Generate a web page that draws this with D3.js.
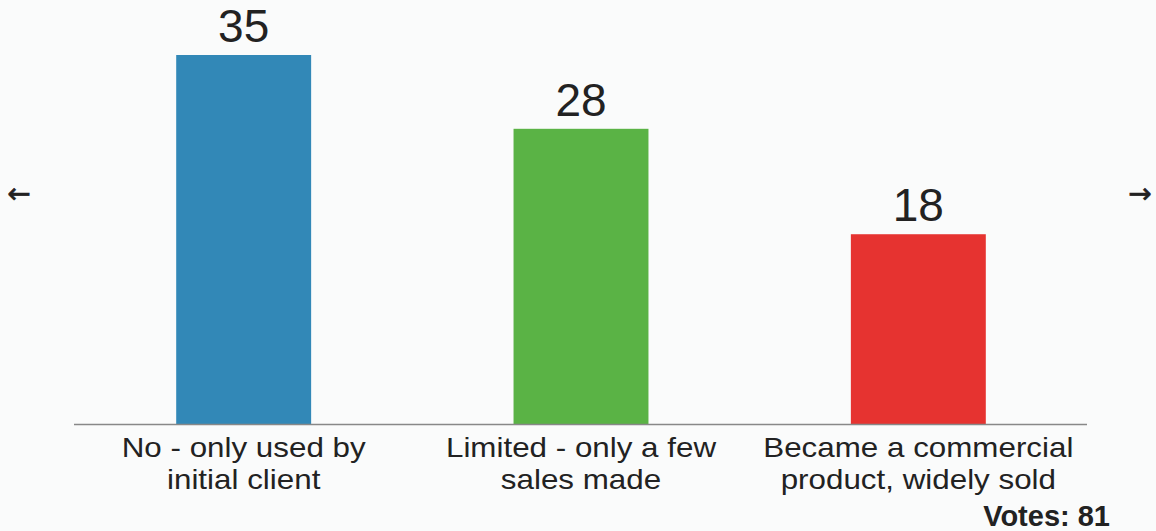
<!DOCTYPE html>
<html lang="en">
<head>
  <meta charset="UTF-8">
  <title>Poll results</title>
  <script src="https://d3js.org/d3.v7.min.js"></script>
  <style>
    body {
      margin: 0;
      background: #fafbfb;
      font-family: "Liberation Sans", Arial, sans-serif;
    }
    .value { font-size: 46px; fill: #222; }
    .cat { font-size: 28px; fill: #222; }
    .votes { font-size: 29px; font-weight: bold; fill: #222; }
    .nav { font-family: "DejaVu Sans", sans-serif; font-size: 28px; fill: #222; stroke: #222; stroke-width: 0.6px; }
  </style>
</head>
<body>
  <svg id="chart" width="1156" height="531"></svg>

  <script>
    // Dane
    const categories = ["No - only used by|initial client", "Limited - only a few|sales made", "Became a commercial|product, widely sold"];
    const values = [35, 28, 18];
    const colors = ["#3288b7", "#5ab345", "#e63330"];
    const totalVotes = 81;

    const baseY = 424;

    const svg = d3.select("#chart");

    const x = d3.scaleBand()
      .domain(d3.range(categories.length))
      .range([75, 1087])
      .paddingInner(0.6)
      .paddingOuter(0.3);

    const y = d3.scaleLinear()
      .domain([0, 35])
      .range([baseY, 55]);

    const cx = i => x(i) + x.bandwidth() / 2;

    // Słupki
    svg.selectAll(".bar")
      .data(values)
      .enter()
      .append("rect")
      .attr("class", "bar")
      .attr("x", (d, i) => x(i))
      .attr("y", d => y(d))
      .attr("width", x.bandwidth())
      .attr("height", d => y(0) - y(d))
      .attr("fill", (d, i) => colors[i]);

    // Oś pozioma
    svg.append("line")
      .attr("x1", 74).attr("x2", 1087)
      .attr("y1", baseY + 0.5).attr("y2", baseY + 0.5)
      .attr("stroke", "#888")
      .attr("stroke-width", 1.5);

    // Wartości
    svg.selectAll(".value")
      .data(values)
      .enter()
      .append("text")
      .attr("class", "value")
      .attr("x", (d, i) => cx(i))
      .attr("y", d => y(d) - 13)
      .attr("text-anchor", "middle")
      .text(d => d);

    // Etykiety kategorii (lekko rozciągnięte w poziomie)
    const labels = svg.selectAll(".cat")
      .data(categories)
      .enter()
      .append("text")
      .attr("class", "cat")
      .attr("text-anchor", "middle")
      .attr("transform", (d, i) => `translate(${cx(i)},457) scale(1.12,1)`);

    labels.selectAll("tspan")
      .data(d => d.split("|"))
      .enter()
      .append("tspan")
      .attr("x", 0)
      .attr("dy", (d, i) => i === 0 ? 0 : 32)
      .text(d => d);

    // Strzałki
    svg.append("text").attr("class", "nav").attr("x", 19).attr("y", 203)
      .attr("text-anchor", "middle").text("\u2190");
    svg.append("text").attr("class", "nav").attr("x", 1140).attr("y", 203)
      .attr("text-anchor", "middle").text("\u2192");

    svg.append("text")
      .attr("class", "votes")
      .attr("x", 1110)
      .attr("y", 526)
      .attr("text-anchor", "end")
      .text("Votes: " + totalVotes);
  </script>
</body>
</html>
